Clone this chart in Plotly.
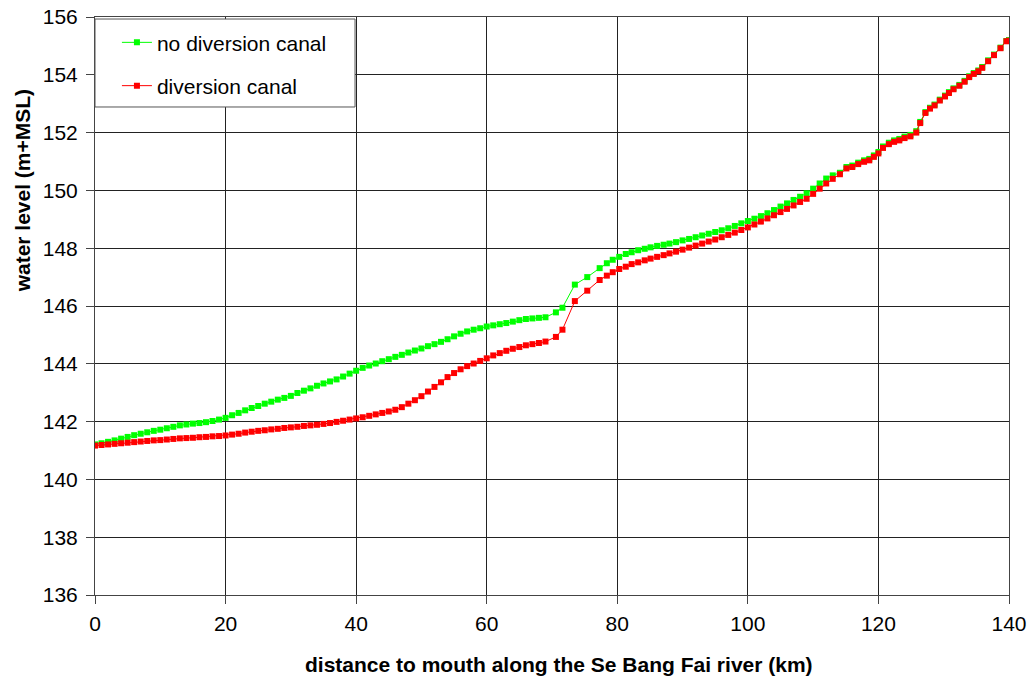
import plotly.graph_objects as go

# distance to mouth (km)
km = list(range(0, 70)) + [70.6, 71.6, 73.5, 75.4, 77.3, 78.4, 79.3, 80.3, 81.3, 82.2,
      83.2, 84.2, 85.1, 86.1, 87.1, 88.0] + list(range(89, 114)) + [
      114.1, 115.1, 116.0, 116.9, 117.8, 118.6, 119.3, 120.0, 120.7, 121.6, 122.4,
      123.2, 124.0, 124.9, 125.8, 126.4, 127.2, 127.9, 128.6, 129.4, 130.2, 130.8,
      131.5, 132.4, 133.2, 133.9, 134.6, 135.3, 135.9, 136.8, 137.7, 138.7, 139.6, 140.0]

no_diversion = [
    141.21, 141.25, 141.30, 141.35, 141.41, 141.47, 141.53, 141.58, 141.63, 141.68,
    141.72, 141.77, 141.82, 141.87, 141.90, 141.93, 141.95, 141.98, 142.02, 142.07,
    142.13, 142.22, 142.30, 142.39, 142.47, 142.54, 142.62, 142.69, 142.76, 142.82,
    142.89, 142.99, 143.07, 143.15, 143.24, 143.32, 143.39, 143.46, 143.56, 143.66,
    143.76, 143.86, 143.94, 144.01, 144.09, 144.16, 144.24, 144.31, 144.39, 144.46,
    144.53, 144.61, 144.68, 144.76, 144.85, 144.95, 145.04, 145.12, 145.18, 145.23,
    145.29, 145.33, 145.37, 145.41, 145.46, 145.51, 145.55, 145.57, 145.59, 145.61,
    145.78, 145.94, 146.74, 147.00, 147.31, 147.48, 147.60, 147.70, 147.80, 147.86,
    147.93, 147.98, 148.03, 148.08, 148.12, 148.16,
    148.21, 148.27, 148.32, 148.38, 148.44, 148.50, 148.56, 148.62, 148.69, 148.77,
    148.86, 148.94, 149.02, 149.11, 149.21, 149.32, 149.44, 149.55, 149.67, 149.78,
    149.90, 150.06, 150.24, 150.41, 150.52,
    150.61, 150.81, 150.86, 150.96, 151.04, 151.09, 151.21, 151.33, 151.52, 151.65,
    151.73, 151.78, 151.86, 151.92, 152.05, 152.37, 152.71, 152.86, 152.97, 153.14,
    153.28, 153.40, 153.53, 153.65, 153.79, 153.95, 154.06, 154.15, 154.27, 154.50,
    154.70, 154.94, 155.17, 155.20]

diversion = [
    141.17, 141.19, 141.21, 141.23, 141.25, 141.27, 141.29, 141.31, 141.33, 141.35,
    141.36, 141.38, 141.40, 141.42, 141.43, 141.44, 141.46, 141.47, 141.49, 141.50,
    141.52, 141.55, 141.58, 141.62, 141.65, 141.68, 141.70, 141.73, 141.75, 141.78,
    141.80, 141.82, 141.85, 141.87, 141.89, 141.92, 141.95, 141.99, 142.03, 142.07,
    142.11, 142.15, 142.20, 142.25, 142.30, 142.35, 142.41, 142.50, 142.62, 142.74,
    142.88, 143.04, 143.20, 143.36, 143.54, 143.68, 143.81, 143.92, 144.01, 144.10,
    144.19, 144.29, 144.37, 144.45, 144.52, 144.58, 144.64, 144.68, 144.72, 144.77,
    144.93, 145.18, 146.17, 146.53, 146.90, 147.05, 147.17, 147.28, 147.36, 147.45,
    147.51, 147.58, 147.64, 147.70, 147.76, 147.82,
    147.88, 147.95, 148.02, 148.09, 148.16, 148.23, 148.30, 148.38, 148.46, 148.54,
    148.63, 148.72, 148.82, 148.92, 149.03, 149.14, 149.25, 149.36, 149.48, 149.60,
    149.71, 149.88, 150.06, 150.24, 150.40,
    150.56, 150.76, 150.81, 150.91, 150.99, 151.04, 151.16, 151.28, 151.47, 151.60,
    151.68, 151.73, 151.81, 151.87, 152.00, 152.33, 152.68, 152.83, 152.94, 153.11,
    153.25, 153.37, 153.50, 153.62, 153.76, 153.92, 154.03, 154.12, 154.24, 154.47,
    154.68, 154.92, 155.16, 155.18]

x_title = "distance to mouth along the Se Bang Fai river (km)"
y_title = "water level (m+MSL)"

fig = go.Figure()
fig.add_trace(go.Scatter(
    x=km, y=no_diversion, mode="lines+markers", name="no diversion canal",
    legendgroup="a",
    line=dict(color="#00FF00", width=1),
    marker=dict(symbol="square", size=6, color="#00FF00")))
fig.add_trace(go.Scatter(
    x=km, y=diversion, mode="lines+markers", name="diversion canal",
    legendgroup="b",
    line=dict(color="#FF0000", width=1),
    marker=dict(symbol="square", size=6, color="#FF0000")))

font_family = "Liberation Sans, Arial, sans-serif"
fig.update_layout(
    width=1031, height=680,
    margin=dict(l=95, r=22, t=17, b=85, autoexpand=False),
    paper_bgcolor="white", plot_bgcolor="white",
    font=dict(family=font_family, size=21, color="black"),
    showlegend=True,
    legend=dict(x=0.024, y=0.991, xanchor="left", yanchor="top",
                bgcolor="rgba(0,0,0,0)", borderwidth=0,
                font=dict(size=21), tracegroupgap=13),
    shapes=[dict(type="rect", xref="paper", yref="paper",
                 x0=0.0, x1=0.2845, y0=0.8443, y1=0.9965,
                 fillcolor="white", line=dict(color="#555555", width=1),
                 layer="above")],
    annotations=[
        dict(text="<b>" + x_title + "</b>", xref="paper", yref="paper",
             x=0.5077, y=-0.1194, xanchor="center", yanchor="middle",
             showarrow=False, font=dict(size=21)),
        dict(text="<b>" + y_title + "</b>", xref="paper", yref="paper",
             x=-0.0799, y=0.70, xanchor="center", yanchor="middle",
             textangle=-90, showarrow=False, font=dict(size=21)),
    ],
)
fig.update_xaxes(
    range=[0, 140], tickvals=[0, 20, 40, 60, 80, 100, 120, 140],
    automargin=False,
    showgrid=True, gridcolor="#222222", gridwidth=1,
    showline=True, linecolor="#444444", linewidth=1, mirror=True,
    ticks="outside", ticklen=8, tickcolor="#444444", zeroline=False,
    tickfont=dict(size=21), ticklabelstandoff=2,
)
fig.update_yaxes(
    range=[136, 156], dtick=2,
    automargin=False,
    showgrid=True, gridcolor="#222222", gridwidth=1,
    showline=True, linecolor="#444444", linewidth=1, mirror=True,
    ticks="outside", ticklen=8, tickcolor="#444444", zeroline=False,
    tickfont=dict(size=21), ticklabelstandoff=4,
)

fig.write_html("out.html")
